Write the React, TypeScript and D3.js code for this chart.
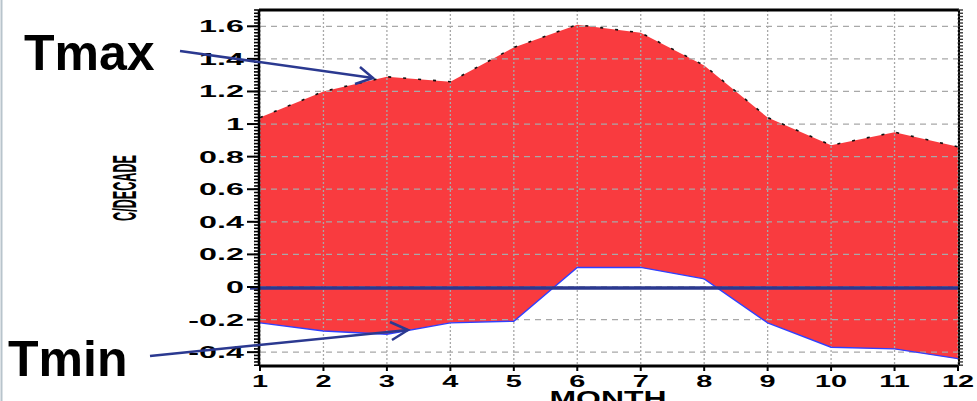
import React from 'react';
import * as d3 from 'd3';

const months = [1, 2, 3, 4, 5, 6, 7, 8, 9, 10, 11, 12];
const tmax = [1.04, 1.2, 1.29, 1.26, 1.47, 1.61, 1.56, 1.36, 1.04, 0.87, 0.95, 0.86];
const tmin = [-0.22, -0.27, -0.29, -0.22, -0.21, 0.12, 0.12, 0.05, -0.22, -0.37, -0.38, -0.44];
const yTicks = [-0.4, -0.2, 0, 0.2, 0.4, 0.6, 0.8, 1, 1.2, 1.4, 1.6];
const yTickLabels = ['-0.4', '-0.2', '0', '0.2', '0.4', '0.6', '0.8', '1', '1.2', '1.4', '1.6'];
const xTickLabels = ['1', '2', '3', '4', '5', '6', '7', '8', '9', '10', '11', '12'];
const yTitle = 'C/DECADE';
const xTitle = 'MONTH';

export default function App() {
  const W = 977, H = 401;
  const L = 260, R = 958, T = 10, B = 366;
  const x = d3.scaleLinear().domain([1, 12]).range([L, R]);
  const y = d3.scaleLinear().domain([-0.485, 1.7]).range([B, T]);
  const data = months.map((m, i) => ({ m, hi: tmax[i], lo: tmin[i] }));
  const area = d3.area<any>().x(d => x(d.m)).y0(d => y(d.lo)).y1(d => y(d.hi))(data) as string;
  const hiLine = d3.line<any>().x(d => x(d.m)).y(d => y(d.hi))(data) as string;
  const loLine = d3.line<any>().x(d => x(d.m)).y(d => y(d.lo))(data) as string;
  const minor = d3.range(-0.48, 1.70001, 0.02);
  const blue = '#2B3990';
  const font = 'Liberation Sans, Arial, sans-serif';

  return (
    <svg width={W} height={H} style={{ position: 'absolute', left: 0, top: 0, background: '#fff' }} fontFamily={font}>
      <rect x={0} y={0} width={W} height={H} fill="#fff" />
      <line x1={1.5} y1={0} x2={1.5} y2={H} stroke="#b8c4cc" strokeWidth={2} />
      <path d={area} fill="#F93B3F" />
      {/* grid */}
      {yTicks.map((t, i) => (
        <line key={'gy' + i} x1={L} x2={R} y1={y(t)} y2={y(t)} stroke="#a8a8a8" strokeWidth={1.3} strokeDasharray="6,5" />
      ))}
      {months.map((m, i) => (
        <line key={'gx' + i} x1={x(m)} x2={x(m)} y1={T} y2={B} stroke="#a8a8a8" strokeWidth={1.3} strokeDasharray="2,2" />
      ))}
      <path d={hiLine} fill="none" stroke="#111" strokeWidth={1.6} strokeDasharray="3,12" />
      <path d={loLine} fill="none" stroke="#3040ff" strokeWidth={1.4} />
      {/* zero line */}
      <line x1={250} x2={R} y1={y(0) + 1} y2={y(0) + 1} stroke={blue} strokeWidth={3.5} />
      {/* frame */}
      <line x1={L - 1} x2={R + 1} y1={T} y2={T} stroke="#000" strokeWidth={3} />
      <line x1={L - 1} x2={R + 1} y1={B} y2={B} stroke="#000" strokeWidth={3} />
      <line x1={L - 1} x2={L - 1} y1={T} y2={B} stroke="#000" strokeWidth={2.5} />
      <line x1={R + 1} x2={R + 1} y1={T} y2={B} stroke="#000" strokeWidth={2} />
      {minor.map((t, i) => (
        <g key={'mn' + i}>
          <line x1={L - 6} x2={L} y1={y(t)} y2={y(t)} stroke="#000" strokeWidth={1.6} />
          <line x1={R} x2={R + 5} y1={y(t)} y2={y(t)} stroke="#333" strokeWidth={1.4} />
        </g>
      ))}
      {yTicks.map((t, i) => (
        <line key={'ty' + i} x1={L - 13} x2={L} y1={y(t)} y2={y(t)} stroke="#000" strokeWidth={2} />
      ))}
      {months.map((m, i) => (
        <line key={'tx' + i} x1={x(m)} x2={x(m)} y1={B} y2={B + 5} stroke="#000" strokeWidth={2} />
      ))}
      {/* tick labels */}
      {yTicks.map((t, i) => (
        <text key={'ly' + i} transform={`translate(244,${y(t) + 6}) scale(1.9,1)`} textAnchor="end" fontSize={17} fontWeight="bold" fill="#000">
          {yTickLabels[i]}
        </text>
      ))}
      {months.map((m, i) => (
        <text key={'lx' + i} transform={`translate(${x(m)},387) scale(1.7,1)`} textAnchor="middle" fontSize={17} fontWeight="bold" fill="#000">
          {xTickLabels[i]}
        </text>
      ))}
      <text x={608} y={406} textAnchor="middle" fontSize={22} fontWeight="bold" textLength={117} lengthAdjust="spacingAndGlyphs">{xTitle}</text>
      <text transform="translate(136,188) rotate(-90)" textAnchor="middle" fontSize={34} fontWeight="bold" textLength={66} lengthAdjust="spacingAndGlyphs">{yTitle}</text>
      {/* annotations */}
      <text x={24} y={70} fontSize={50} fontWeight="bold" fill="#000">Tmax</text>
      <text x={8} y={376} fontSize={50} fontWeight="bold" fill="#000">Tmin</text>
      <g stroke={blue} strokeWidth={2.5} fill="none">
        <line x1={180} y1={51} x2={373} y2={78} />
        <polyline points="360,67 373,78 355,84" />
        <line x1={150} y1={356} x2={408} y2={330} />
        <polyline points="390,322 408,330 392,340" />
      </g>
    </svg>
  );
}
